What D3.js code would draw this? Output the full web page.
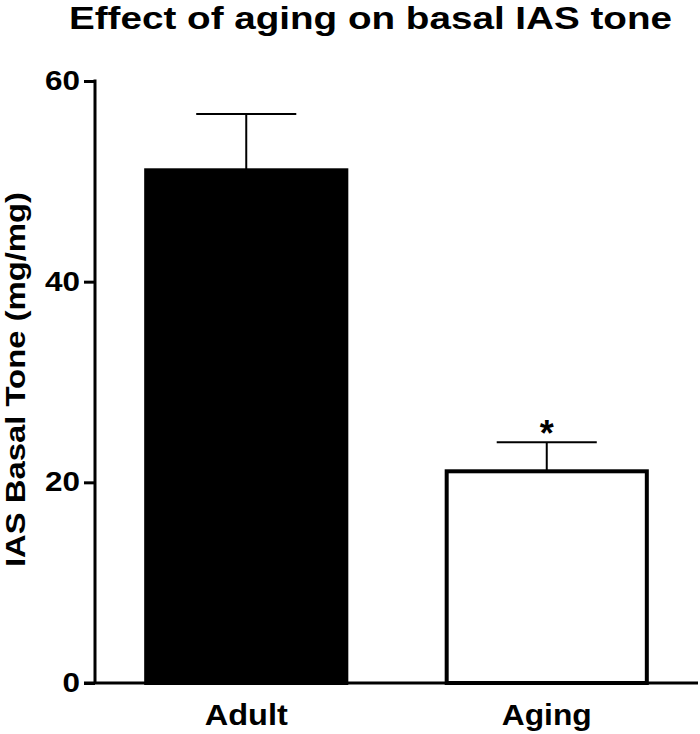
<!DOCTYPE html>
<html>
<head>
<meta charset="utf-8">
<script src="https://cdn.jsdelivr.net/npm/d3@7"></script>
<style>
  html, body { margin: 0; padding: 0; background: #fff; }
  svg text { font-family: "Liberation Sans", Arial, Helvetica, sans-serif; font-weight: bold; fill: #000; }
</style>
</head>
<body>
<svg id="chart" width="700" height="734"></svg>
<script>
const categories = ["Adult", "Aging"];
const means = [51.1, 21.1];
const sems = [5.6, 2.9];
const fills = ["#000000", "#ffffff"];
const significance = ["", "*"];
const yTicks = [0, 20, 40, 60];
const titleText = "Effect of aging on basal IAS tone";
const yLabel = "IAS Basal Tone (mg/mg)";

const svg = d3.select("#chart");

const y = d3.scaleLinear().domain([0, 60]).range([683, 81]);
const x = d3.scaleBand().domain(categories).range([96, 697]).paddingInner(0.334).paddingOuter(0.167);

// title
svg.append("text")
  .attr("x", 69).attr("y", 28.5)
  .attr("font-size", 30.5)
  .attr("textLength", 603).attr("lengthAdjust", "spacingAndGlyphs")
  .text(titleText);

// y axis title
svg.append("text")
  .attr("transform", "translate(25,379.5) rotate(-90)")
  .attr("text-anchor", "middle")
  .attr("font-size", 28)
  .attr("textLength", 375).attr("lengthAdjust", "spacingAndGlyphs")
  .text(yLabel);

// bars
const bw = x.bandwidth();
svg.selectAll("rect.bar").data(categories).enter().append("rect")
  .attr("class", "bar")
  .attr("x", d => x(d))
  .attr("y", (d, i) => y(means[i]))
  .attr("width", bw)
  .attr("height", (d, i) => y(0) - y(means[i]))
  .attr("fill", (d, i) => fills[i])
  .attr("stroke", "#000")
  .attr("stroke-width", 4);

// error bars
categories.forEach((c, i) => {
  const cx = x(c) + bw / 2;
  svg.append("line")
    .attr("x1", cx).attr("x2", cx)
    .attr("y1", y(means[i])).attr("y2", y(means[i] + sems[i]))
    .attr("stroke", "#000").attr("stroke-width", 2);
  svg.append("line")
    .attr("x1", cx - bw / 4).attr("x2", cx + bw / 4)
    .attr("y1", y(means[i] + sems[i])).attr("y2", y(means[i] + sems[i]))
    .attr("stroke", "#000").attr("stroke-width", 2);
  if (significance[i]) {
    svg.append("text")
      .attr("x", cx).attr("y", y(means[i] + sems[i]) + 4)
      .attr("text-anchor", "middle")
      .attr("font-size", 36)
      .text(significance[i]);
  }
});

// y axis
const yAxis = d3.axisLeft(y).tickValues(yTicks).tickSize(11).tickPadding(4).tickSizeOuter(0);
const gy = svg.append("g").attr("transform", "translate(95,0)").call(yAxis);
gy.select(".domain").attr("stroke", "#000").attr("stroke-width", 3)
  .attr("d", `M0,${y(60) - 1.5}V${y(0)}`);
gy.selectAll(".tick line").attr("stroke", "#000").attr("stroke-width", 3);
gy.selectAll(".tick text")
  .attr("font-size", 27)
  .attr("font-family", "'Liberation Sans', Arial, sans-serif")
  .attr("font-weight", "bold")
  .attr("fill", "#000")
  .attr("x", -15)
  .attr("textLength", d => String(d).length === 1 ? 17.5 : 35)
  .attr("lengthAdjust", "spacingAndGlyphs");

// x axis
const xAxis = d3.axisBottom(x).tickSize(0).tickPadding(0);
const gx = svg.append("g").attr("transform", `translate(0,${y(0)})`).call(xAxis);
gx.select(".domain").attr("stroke", "#000").attr("stroke-width", 3)
  .attr("d", `M84,0H698`);
gx.selectAll(".tick text")
  .attr("font-size", 30)
  .attr("font-family", "'Liberation Sans', Arial, sans-serif")
  .attr("font-weight", "bold")
  .attr("fill", "#000")
  .attr("dy", null)
  .attr("y", 42)
  .attr("textLength", (d, i) => [83, 90][i])
  .attr("lengthAdjust", "spacingAndGlyphs");
</script>
</body>
</html>
